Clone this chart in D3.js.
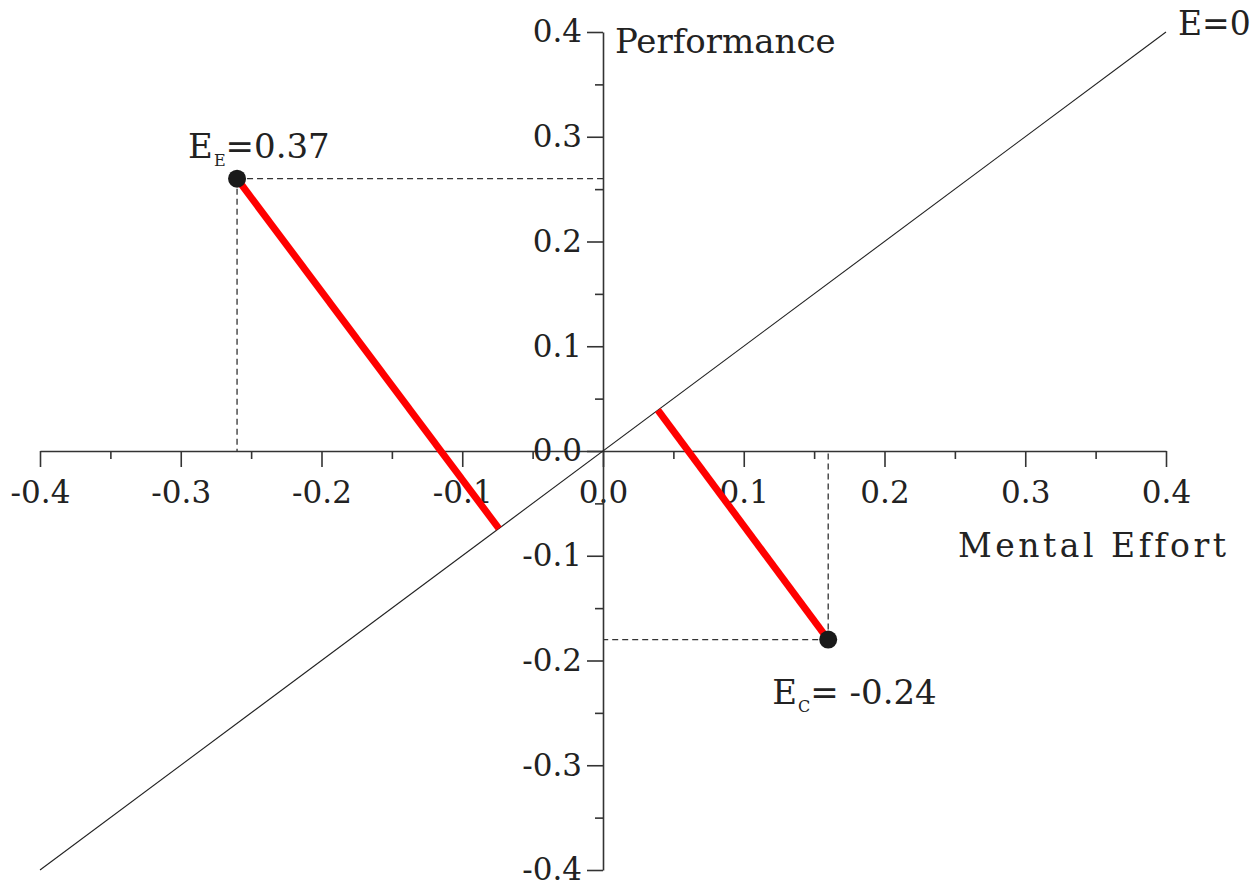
<!DOCTYPE html>
<html>
<head>
<meta charset="utf-8">
<script src="https://cdn.jsdelivr.net/npm/d3@7"></script>
<style>
  html, body { margin: 0; padding: 0; background: #ffffff; }
  svg { display: block; }
  text { font-family: "DejaVu Serif", serif; fill: #222; }
</style>
</head>
<body>
<svg id="chart" width="1254" height="885"></svg>
<script>
// ---- data ----
const domainMin = -0.4;
const domainMax = 0.4;
const majorTicks = [-0.4, -0.3, -0.2, -0.1, 0.0, 0.1, 0.2, 0.3, 0.4];
const minorTicks = [-0.35, -0.25, -0.15, -0.05, 0.05, 0.15, 0.25, 0.35];
const tickLabels = ["-0.4", "-0.3", "-0.2", "-0.1", "0.0", "0.1", "0.2", "0.3", "0.4"];
const diagonalLine = [[-0.4, -0.4], [0.4, 0.4]];
const pointNames = ["E", "C"];
const pointX = [-0.26, 0.16];
const pointY = [0.26, -0.18];
const pointEfficiency = ["=0.37", "= -0.24"];
const footX = [-0.074, 0.039];
const footY = [-0.074, 0.039];
const xAxisTitle = "Mental Effort";
const yAxisTitle = "Performance";
const diagonalTitle = "E=0";

// ---- drawing ----
const svg = d3.select("#chart");
const x = d3.scaleLinear().domain([domainMin, domainMax]).range([40, 1166]);
const y = d3.scaleLinear().domain([domainMin, domainMax]).range([870, 32]);
const fmt = (d) => tickLabels[majorTicks.findIndex(t => Math.abs(t - d) < 1e-9)];

const axisColor = "#333";

// dashed guide lines
const guides = svg.append("g").attr("stroke", "#333").attr("stroke-width", 1.3)
  .attr("stroke-dasharray", "6,4").attr("fill", "none");
pointX.forEach((px, i) => {
  guides.append("line").attr("x1", x(px)).attr("y1", y(pointY[i])).attr("x2", x(0)).attr("y2", y(pointY[i]));
  guides.append("line").attr("x1", x(px)).attr("y1", y(pointY[i])).attr("x2", x(px)).attr("y2", y(0));
});

// x axis
const xg = svg.append("g").attr("transform", `translate(0,${y(0)})`);
xg.call(d3.axisBottom(x).tickValues(majorTicks).tickSize(16).tickPadding(14).tickSizeOuter(0).tickFormat(fmt));
const xm = svg.append("g").attr("transform", `translate(0,${y(0)})`);
xm.call(d3.axisBottom(x).tickValues(minorTicks).tickSize(8).tickSizeOuter(0).tickFormat(""));
xm.select(".domain").remove();

// y axis
const yg = svg.append("g").attr("transform", `translate(${x(0)},0)`);
yg.call(d3.axisLeft(y).tickValues(majorTicks).tickSize(16).tickPadding(5).tickSizeOuter(0).tickFormat(fmt));
const ym = svg.append("g").attr("transform", `translate(${x(0)},0)`);
ym.call(d3.axisLeft(y).tickValues(minorTicks).tickSize(8).tickSizeOuter(0).tickFormat(""));
ym.select(".domain").remove();

[xg, xm, yg, ym].forEach(g => {
  g.selectAll("path, line").attr("stroke", axisColor).attr("stroke-width", 1.6);
  g.selectAll("text").attr("font-family", "DejaVu Serif").attr("font-size", 31).attr("fill", "#222");
});

// diagonal E=0 line
svg.append("path")
  .datum(diagonalLine)
  .attr("d", d3.line().x(d => x(d[0])).y(d => y(d[1])))
  .attr("stroke", "#222").attr("stroke-width", 1.1).attr("fill", "none");

// red distance lines
pointX.forEach((px, i) => {
  svg.append("line")
    .attr("x1", x(px)).attr("y1", y(pointY[i]))
    .attr("x2", x(footX[i])).attr("y2", y(footY[i]))
    .attr("stroke", "#ff0000").attr("stroke-width", 7).attr("stroke-linecap", "butt");
});

// points
svg.selectAll("circle.pt").data(pointX).enter().append("circle")
  .attr("class", "pt")
  .attr("cx", d => x(d)).attr("cy", (d, i) => y(pointY[i]))
  .attr("r", 9).attr("fill", "#1a1a1a");

// point labels
const labelOffsets = [[-49, -21], [-56, 64]];
pointX.forEach((px, i) => {
  const t = svg.append("text")
    .attr("x", x(px) + labelOffsets[i][0])
    .attr("y", y(pointY[i]) + labelOffsets[i][1])
    .attr("font-size", 34);
  t.append("tspan").text("E");
  t.append("tspan").attr("font-size", 16).attr("dy", 8).attr("dx", 1).text(pointNames[i]);
  t.append("tspan").attr("dy", -8).text(pointEfficiency[i]);
});

// axis titles
svg.append("text").attr("x", x(0) + 12).attr("y", y(domainMax) + 21)
  .attr("font-size", 34).text(yAxisTitle);
svg.append("text").attr("x", 958).attr("y", 557)
  .attr("font-size", 33).attr("letter-spacing", 3.5).text(xAxisTitle);
svg.append("text").attr("x", x(diagonalLine[1][0]) + 12).attr("y", 35)
  .attr("font-size", 33).text(diagonalTitle);
</script>
</body>
</html>
